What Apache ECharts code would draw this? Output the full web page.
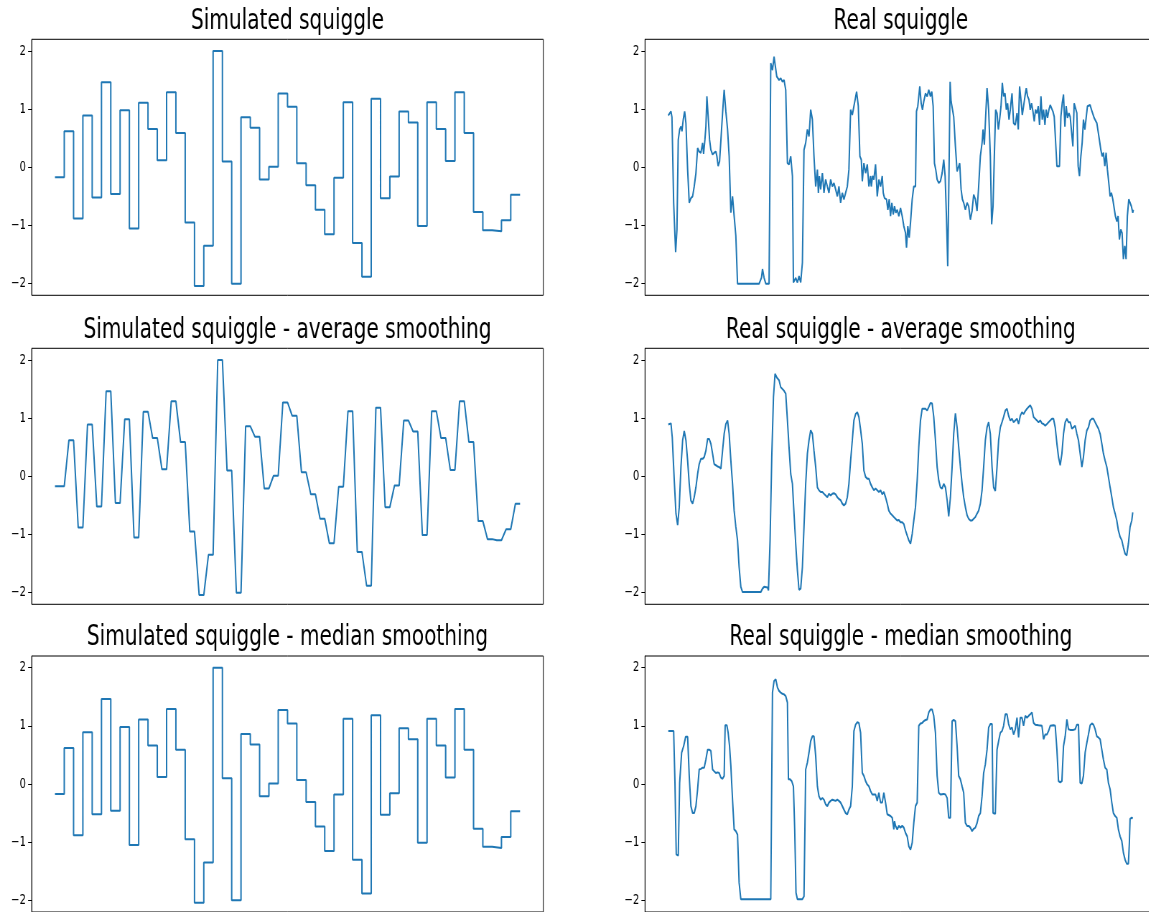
<!DOCTYPE html>
<html>
<head>
<meta charset="utf-8">
<script src="https://cdn.jsdelivr.net/npm/echarts@6.0.0/dist/echarts.min.js"></script>
<style>
  html, body { margin: 0; padding: 0; background: #fff; overflow: hidden; width: 1149px; height: 912px; }
  /* the figure is laid out on a wide canvas and compressed horizontally */
  #chart { width: 1650px; height: 912px; transform: scaleX(0.718); transform-origin: 0 0; }
</style>
</head>
<body>
<div id="chart"></div>
<script>
// ---- simulated squiggle: one current level per k-mer event ----
const simLevels = [-0.17, 0.62, -0.88, 0.89, -0.52, 1.46, -0.46, 0.98, -1.05, 1.11,
  0.66, 0.12, 1.29, 0.59, -0.95, -2.04, -1.35, 2.0, 0.10, -2.0,
  0.86, 0.68, -0.21, 0.01, 1.27, 1.04, 0.07, -0.31, -0.73, -1.15,
  -0.18, 1.12, -1.30, -1.88, 1.18, -0.53, -0.16, 0.96, 0.77, -1.01,
  1.12, 0.66, 0.11, 1.29, 0.59, -0.77, -1.08, -1.10, -0.91, -0.47];
// width of the ramp left by the moving average, in events
const avgRamp = 0.5;

// ---- real squiggle (normalised signal) ----
const realTime = [0,2.7,3.7,5.4,6.7,7.4,8.7,10,11.4,12.7,13.7,15,16.4,17.7,19.4,21,22.7,24.4,26,27.7,
  29.4,31,32.7,34.4,35.4,36.7,37.7,38.7,40,41.4,42.7,44.4,46,47.7,48.7,50,51.4,52.7,54.4,56,
  57.7,59.4,61,62.7,64.4,66,67.7,69.4,79.4,91,93.4,94.4,96,97.7,101,102.7,104.4,106,107,108.7,
  111,112.7,114.4,116,117.7,119.4,121,122.7,124.4,125.4,127.7,129.4,131,132.7,134.4,136,137.7,139.4,141,142.7,
  144.4,146,147.7,149.4,150.4,151.4,152.7,154.4,156,157.7,159.4,161,162.7,164.4,166,167.7,169.4,171,172.7,174.4,
  176,177.7,179.4,181,182.7,184.4,186,188.7,190.4,192,193.4,194.4,196,197.7,199.4,201,202.7,203.4,204.7,206,
  207.7,209.4,211,212.7,214.4,215.4,216.7,218.7,220,221.4,222.7,224,225.4,226.7,228,229.4,231,232.7,234.4,236,
  237.7,238.7,240,241.4,242.7,244.4,246,247.7,248.7,250,252,253.4,254.7,256,257.7,259.4,261,262.7,264,265.4,
  266.7,268,269.4,271,272.7,274.4,276,277.4,278.7,280,281.4,282.4,283.4,284.7,286,287.7,289.4,290.7,292,293.4,
  294.7,296,297.7,299.4,301,302.7,304.4,306,307.7,309.4,311,312.7,314.4,315.4,316.7,317.7,319.4,321,322.7,324,
  325.4,326.7,328,329.4,330.7,332,333.4,334.7,336,337.4,338.7,340,341.4,342.7,344.4,346,347.7,349.4,350.7,352,
  353.4,354.7,356,357.4,358.7,360,361.4,362.7,364,365.4,366.7,368,369.4,370.7,372,373.4,374.7,376,377.4,378.7,
  380,381.4,382.7,384,385.4,386.7,388,389.4,390.7,392,393.4,394.7,396,397.4,398.7,400,401.4,402.7,404,405.4,
  406.7,408,409.4,410.7,412,413.4,414.7,416,417.4,418.7,420,421.4,422.7,424,425.4,426.7,428,429.4,430.7,432,
  433.4,434.7,436,437.4,438.7,440,441.4,442.7,444,445.4,446.7,448,449.4,450.7,452,453.4,454.7,456,457.4,458.7,
  460,461.4,462.7,464,465.4,466];
const realSignal = [0.89,0.96,0.86,-0.61,-1.18,-1.46,-1.07,0.47,0.65,0.70,0.62,0.82,0.96,0.76,-0.04,-0.61,-0.53,-0.50,-0.33,-0.10,
  0.33,0.27,0.25,0.42,0.23,0.47,0.70,1.22,0.87,0.47,0.30,0.22,0.25,0.27,0.19,0.02,0.10,0.07,0.93,1.33,
  0.96,0.65,0.19,-0.78,-0.50,-0.84,-1.18,-2.0,-2.0,-2.0,-1.9,-1.75,-1.9,-2.0,-2.0,1.79,1.67,1.90,1.93,1.56,
  1.50,1.53,1.47,1.50,1.33,0.07,0.05,0.19,-0.15,-1.98,-1.90,-1.98,-1.87,-1.98,-1.64,0.30,0.42,0.65,0.53,0.99,
  0.82,0.19,-0.33,-0.04,-0.44,-0.15,-0.38,-0.10,-0.44,-0.21,-0.33,-0.44,-0.21,-0.33,-0.27,-0.38,-0.50,-0.33,-0.61,-0.44,
  -0.55,-0.44,-0.33,-0.04,0.99,0.90,1.05,1.30,1.05,0.19,0.13,-0.24,0.07,-0.10,0.05,-0.33,-0.15,-0.33,-0.15,-0.21,
  0.05,-0.50,-0.21,-0.33,-0.15,-0.44,-0.53,-0.55,-0.73,-0.55,-0.84,-0.61,-0.81,-0.67,-0.78,-0.73,-0.84,-0.70,-0.84,-1.01,
  -1.13,-1.38,-1.01,-1.21,-0.95,-0.55,-0.33,-0.33,0.96,1.05,1.39,1.10,0.99,1.13,1.27,1.22,1.33,1.22,1.30,1.05,
  0.07,-0.04,-0.21,-0.27,-0.24,-0.10,0.13,-0.15,-0.84,-1.70,0.07,1.47,1.13,1.16,0.87,0.36,-0.07,-0.04,0.07,-0.38,
  -0.55,-0.61,-0.73,-0.61,-0.67,-0.90,-0.75,-0.47,-0.55,-0.75,-0.33,0.19,0.42,0.65,0.39,0.76,1.36,0.99,0.19,-0.98,
  -0.67,0.19,0.99,0.93,0.65,0.82,1.05,1.45,1.22,1.27,0.99,1.10,0.82,0.99,1.27,0.76,0.73,0.93,0.65,1.39,
  1.16,0.90,1.05,1.22,1.36,1.22,1.16,0.99,1.10,0.96,0.79,0.99,0.93,1.05,0.73,1.22,0.82,0.99,0.73,0.99,
  0.85,0.99,1.07,1.10,0.96,0.87,0.47,0.02,0.02,0.02,0.87,1.10,1.25,0.70,1.05,0.85,0.93,0.87,0.90,0.36,
  1.10,1.13,0.93,0.02,-0.15,0.19,0.42,0.82,0.65,0.85,1.05,1.07,1.07,0.99,0.96,0.85,0.87,0.76,0.76,0.47,
  0.30,0.19,0.25,0.02,0.25,-0.04,-0.27,-0.50,-0.44,-0.55,-0.55,-0.84,-0.93,-0.84,-1.24,-1.07,-1.13,-1.58,-1.35,-1.58,
  -0.84,-0.55,-0.55,-0.67,-0.78,-0.73];

// ---- real squiggle after average smoothing ----
const avgTime = [0,2.7,4,6,7.7,9.4,11,12.7,14.4,16,17.7,19.4,21,22.7,24.4,26,27.7,29.4,31,32.7,
  34.4,36,37.7,39.4,41,42.7,44.4,46,47.7,49.4,51,52.7,54.4,56,57.7,59.4,61,62.7,64.4,66,
  67.7,69.4,71,72.7,74.4,81,92.7,94.4,96,99.4,100.4,102,103.7,105.4,107,108.7,111,112.7,114.4,116,
  117.7,119.4,121,122.7,124.4,126,127.7,129.4,131,132.7,134.4,136,137.7,139.4,141,142.7,144.4,146,147.7,149.4,
  151,152.7,154.4,156,157.7,159.4,161,162.7,164.4,166,167.7,169.4,171,172.7,174.4,176,177.7,179.4,181,182.7,
  184.4,186,187.7,189.4,191,192.7,194.4,196,197.7,199.4,201,202.7,204.4,206,207.7,209.4,211,212.7,214.4,216,
  217.7,219.4,221,222.7,224.4,226,227.7,229.4,231,232.7,234.4,236,237.7,239.4,241,242.7,244.4,246,247.7,249.4,
  251,252.7,254.4,256,257.7,259.4,261,262.7,264.4,266,267.7,269.4,271,272.7,274.4,276,277.7,279.4,281,282.7,
  284.4,286,287.7,289.4,291,292.7,294.4,296,297.7,299.4,301,302.7,304.4,306,307.7,309.4,311,312.7,314.4,316,
  317.7,319.4,321,322.7,324.4,326,327.7,329.4,331,332.7,334.4,336,337.7,339.4,341,342.7,344.4,346,347.7,349.4,
  351,352.7,354.4,356,357.7,359.4,361,362.7,364.4,366,367.7,369.4,371,372.7,374.4,376,377.7,379.4,381,382.7,
  384.4,386,387.7,389.4,391,392.7,394.4,396,397.7,399.4,401,402.7,404.4,406,407.7,409.4,411,412.7,414.4,416,
  417.7,419.4,421,422.7,424.4,426,427.7,429.4,431,432.7,434.4,436,437.7,439.4,441,442.7,444.4,446,447.7,449.4,
  451,452.7,454.4,456,457.7,459.4,461,462.7,464.4,465.4];
const avgSignal = [0.89,0.91,0.67,-0.07,-0.64,-0.84,-0.53,0.16,0.62,0.78,0.62,0.27,-0.13,-0.42,-0.47,-0.36,-0.19,0.04,0.21,0.30,
  0.30,0.33,0.44,0.64,0.64,0.56,0.39,0.21,0.19,0.17,0.16,0.13,0.44,0.73,0.90,0.96,0.73,0.27,-0.13,-0.59,
  -0.87,-1.10,-1.56,-1.90,-1.99,-1.99,-1.99,-1.93,-1.90,-1.91,-1.96,-1.10,0.33,1.36,1.76,1.70,1.65,1.53,1.50,1.47,
  1.42,0.96,0.50,0.04,-0.13,-0.64,-1.16,-1.62,-1.95,-1.93,-1.56,-0.87,-0.13,0.39,0.62,0.79,0.73,0.44,0.16,-0.19,
  -0.24,-0.27,-0.27,-0.30,-0.33,-0.36,-0.30,-0.33,-0.30,-0.29,-0.31,-0.36,-0.39,-0.41,-0.47,-0.50,-0.47,-0.36,-0.13,0.27,
  0.62,0.96,1.07,1.10,1.02,0.80,0.56,0.10,-0.01,-0.04,-0.04,-0.13,-0.19,-0.24,-0.21,-0.24,-0.27,-0.24,-0.31,-0.27,
  -0.36,-0.47,-0.59,-0.64,-0.67,-0.70,-0.73,-0.76,-0.75,-0.79,-0.79,-0.82,-0.93,-1.02,-1.10,-1.16,-0.99,-0.76,-0.53,-0.07,
  0.50,0.96,1.16,1.16,1.16,1.13,1.19,1.26,1.25,1.02,0.62,0.16,-0.07,-0.19,-0.21,-0.13,-0.19,-0.41,-0.69,-0.36,
  0.16,0.73,1.08,0.84,0.50,0.16,-0.13,-0.36,-0.53,-0.67,-0.73,-0.76,-0.76,-0.73,-0.70,-0.64,-0.59,-0.47,-0.24,0.16,
  0.62,0.84,0.93,0.73,0.16,-0.19,-0.25,0.16,0.62,0.84,0.93,1.02,1.13,1.16,1.04,0.96,0.99,0.93,0.96,0.99,
  0.90,1.04,1.10,1.07,1.12,1.16,1.19,1.22,1.16,1.02,0.99,0.96,0.93,0.96,0.91,0.90,0.87,0.90,0.93,0.96,
  0.99,0.99,0.84,0.56,0.33,0.19,0.39,0.73,0.93,0.99,0.93,0.93,0.82,0.84,0.87,0.73,0.62,0.39,0.16,0.33,
  0.62,0.79,0.84,0.96,0.99,0.99,0.93,0.87,0.82,0.73,0.56,0.39,0.27,0.16,-0.01,-0.19,-0.36,-0.53,-0.64,-0.76,
  -0.93,-1.04,-1.10,-1.22,-1.33,-1.36,-1.16,-0.87,-0.76,-0.62];

// ---- real squiggle after median smoothing ----
const medTime = [0,5.4,6.7,8,10,11.4,13.4,15.4,17.4,19.4,21,22.7,24.4,26,27.7,29.4,31,32.7,34.4,36,
  37.7,39.4,41,42.7,44.4,46,47.7,49.4,51,52.7,54.4,56,57,58.7,60,61.4,62.7,64.4,66,67.7,
  69.4,71,72.7,82.7,94.4,95.4,96.7,102.7,104.4,106,107.7,109.4,111,112.7,114.4,116,117.7,119.4,120.4,122,
  123.7,125.4,126.7,128,129.4,134.4,136,137.7,139.4,141,142.7,144.4,146,147.7,149.4,151,152.7,154.4,156,157.7,
  159.4,161,162.7,164.4,166,167.7,169.4,171,172.7,174.4,176,177.7,179.4,181,182.7,184.4,186,187.7,189.4,191,
  192.7,194.4,196,197.7,199.4,201,202.7,204.4,207.7,209.4,211,212.7,214.4,216,217.7,219.4,222.7,224.4,226,226.7,
  227.7,229.4,231,232.7,234.4,236,237.7,239.4,241,242.7,244.4,246,247.7,249.4,251,252.7,254.4,256,257.7,259.4,
  261,262.7,264.4,266,267.7,269.4,271,272.7,276,277.7,279.4,281,282.7,284.4,286,287.7,289.4,291,292.7,294.4,
  296,297.7,299.4,301,302.7,304.4,306,307.7,309.4,311,312.7,314.4,316,317.7,319.4,321,322.7,324.4,325.4,327.7,
  329.4,331,332.7,334.4,336,337.7,339.4,341,342.7,344.4,346,347.7,349.4,351,352.7,354.4,356,357.7,359.4,361,
  362.7,364.4,366,367.7,371,374.4,376,377.7,379.4,381,382.7,386,387.7,389.4,391,392.7,394.4,396,397.7,399.4,
  401,402.7,406,407.7,409.4,411,412.7,414.4,416,417.7,419.4,421,422.7,424.4,426,427.7,429.4,431,432.7,434.4,
  436,437.7,439.4,441,442.7,444.4,446,447.7,449.4,451,452.7,454.4,456,457.7,459.4,461,462,462.7,464.4,465.4];
const medSignal = [0.91,0.91,0.02,-1.21,-1.23,0.02,0.54,0.65,0.81,0.81,0.14,-0.38,-0.50,-0.50,-0.38,-0.09,0.25,0.26,0.28,0.28,
  0.42,0.59,0.59,0.57,0.25,0.22,0.19,0.20,0.19,0.11,0.09,0.14,1.01,1.01,0.88,0.65,0.31,-0.27,-0.78,-0.81,
  -0.87,-1.70,-1.98,-1.98,-1.98,-1.96,-1.98,-1.98,1.57,1.77,1.80,1.66,1.60,1.57,1.55,1.54,1.51,1.40,0.08,0.08,
  0.05,-0.04,-0.78,-1.87,-1.98,-1.98,-1.93,0.25,0.37,0.54,0.74,0.82,0.82,0.48,-0.04,-0.21,-0.27,-0.24,-0.27,-0.35,
  -0.38,-0.32,-0.29,-0.27,-0.28,-0.29,-0.27,-0.29,-0.32,-0.38,-0.44,-0.50,-0.52,-0.44,-0.38,-0.04,0.91,1.02,1.06,1.05,
  0.88,0.19,0.14,0.05,-0.01,-0.04,-0.12,-0.18,-0.18,-0.29,-0.15,-0.32,-0.32,-0.15,-0.32,-0.52,-0.55,-0.58,-0.78,-0.64,
  -0.72,-0.78,-0.72,-0.75,-0.72,-0.75,-0.84,-0.90,-1.07,-1.13,-1.01,-0.67,-0.38,-0.32,1.00,1.04,1.05,1.08,1.10,1.11,
  1.23,1.28,1.28,1.17,0.88,0.14,-0.15,-0.18,-0.17,-0.18,-0.24,-0.58,-0.58,1.08,1.10,1.08,0.65,0.14,0.08,-0.04,
  -0.15,-0.67,-0.72,-0.72,-0.75,-0.81,-0.77,-0.75,-0.67,-0.55,-0.50,-0.21,0.19,0.34,0.59,0.97,1.03,1.03,-0.50,-0.51,
  0.59,0.74,0.88,0.91,1.00,1.20,1.20,1.03,0.94,0.97,0.85,0.94,1.14,0.80,1.14,1.14,1.00,1.17,1.14,1.17,
  1.20,1.23,1.05,1.02,1.01,1.00,0.77,0.85,0.85,0.91,1.00,1.01,1.00,0.59,0.05,0.03,0.05,0.65,0.82,1.11,
  0.94,0.93,0.93,0.94,1.02,1.02,0.02,0.01,0.14,0.54,0.71,0.85,1.01,1.04,1.02,0.94,0.82,0.80,0.77,0.59,
  0.42,0.28,0.25,0.02,-0.09,-0.32,-0.50,-0.55,-0.58,-0.78,-0.90,-0.98,-1.18,-1.30,-1.37,-1.37,-1.01,-0.60,-0.58,-0.59];

// ---- y axis ----
const yTicks = [-2, -1, 0, 1, 2];
const yRange = [-2.2, 2.2];

// ---- build series data ----
function pairs(times, values) { return times.map((t, i) => [t, values[i]]); }
// raw and median-smoothed event levels: held for a whole event
const simStep = simLevels.map((v, i) => [i, v]).concat([[simLevels.length, simLevels[simLevels.length - 1]]]);
// average smoothing: each change of level becomes a short ramp
const simAvg = [[0, simLevels[0]]];
for (let i = 1; i < simLevels.length; i++) {
  simAvg.push([i, simLevels[i - 1]]);
  simAvg.push([i + avgRamp, simLevels[i]]);
}
simAvg.push([simLevels.length, simLevels[simLevels.length - 1]]);

const realSpan = realTime[realTime.length - 1];
const simSpan = simLevels.length;

// ---- layout (drawing space is compressed by SX horizontally) ----
const SX = 0.718;
const colLeft = [31.7 / SX, 645 / SX];
const gridW = 511.6 / SX;
const rowTop = [39.3, 348.3, 656];
const gridH = 256;

const panels = [
  { title: 'Simulated squiggle', col: 0, row: 0, data: simStep, step: 'end', span: simSpan },
  { title: 'Real squiggle', col: 1, row: 0, data: pairs(realTime, realSignal), step: false, span: realSpan },
  { title: 'Simulated squiggle - average smoothing', col: 0, row: 1, data: simAvg, step: false, span: simSpan },
  { title: 'Real squiggle - average smoothing', col: 1, row: 1, data: pairs(avgTime, avgSignal), step: false, span: realSpan },
  { title: 'Simulated squiggle - median smoothing', col: 0, row: 2, data: simStep, step: 'end', span: simSpan },
  { title: 'Real squiggle - median smoothing', col: 1, row: 2, data: pairs(medTime, medSignal), step: false, span: realSpan }
];

const font = "'DejaVu Sans', 'Liberation Sans', sans-serif";
const option = {
  animation: false,
  backgroundColor: '#ffffff',
  title: [], grid: [], xAxis: [], yAxis: [], series: []
};

panels.forEach((p, i) => {
  const left = colLeft[p.col];
  const top = rowTop[p.row];
  option.title.push({
    text: p.title,
    left: left + gridW / 2,
    top: top - 32,
    textAlign: 'center',
    padding: 0,
    textStyle: { fontFamily: font, fontSize: 28, fontWeight: 'normal', color: '#000' }
  });
  option.grid.push({
    left: left, top: top, width: gridW, height: gridH,
    show: true, borderColor: '#000', borderWidth: 1, backgroundColor: 'transparent',
    containLabel: false, outerBoundsMode: 'none'
  });
  option.xAxis.push({
    type: 'value', gridIndex: i,
    min: -0.05 * p.span, max: 1.05 * p.span,
    show: false
  });
  option.yAxis.push({
    type: 'value', gridIndex: i,
    min: yRange[0], max: yRange[1],
    axisLine: { show: true, onZero: false, lineStyle: { color: '#000', width: 1 } },
    axisTick: { show: true, length: 5, inside: false, customValues: yTicks, lineStyle: { color: '#000', width: 1 } },
    axisLabel: {
      show: true, customValues: yTicks, margin: 8,
      fontFamily: font, fontSize: 14, color: '#000',
      formatter: v => String(v).replace('-', '\u2212')
    },
    splitLine: { show: false }
  });
  option.series.push({
    type: 'line', xAxisIndex: i, yAxisIndex: i,
    data: p.data, step: p.step,
    symbol: 'none', showSymbol: false, smooth: false,
    lineStyle: { color: '#1f77b4', width: 2 },
    silent: true
  });
});

const chart = echarts.init(document.getElementById('chart'), null, { renderer: 'canvas' });
chart.setOption(option);
</script>
</body>
</html>
